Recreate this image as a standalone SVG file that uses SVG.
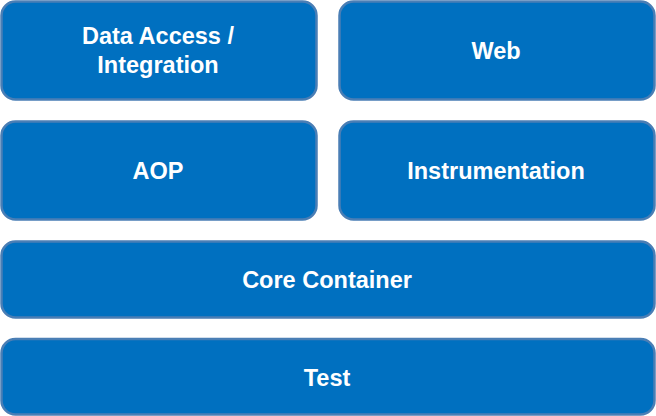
<svg xmlns="http://www.w3.org/2000/svg" width="656" height="416" viewBox="0 0 656 416">
<style>
.box{fill:#0070c0;stroke:#4a7eb5;stroke-width:2.5}
.lbl{fill:#ffffff;font-family:"Liberation Sans",Arial,sans-serif;font-weight:bold;font-size:23.5px;text-anchor:middle}
</style>
<rect width="656" height="416" fill="#ffffff"/>
<g id="data-access">
<rect class="box" x="1.5" y="1.5" width="315" height="98" rx="14"/>
<text class="lbl" x="158" y="44">Data Access /</text>
<text class="lbl" x="158" y="73">Integration</text>
</g>
<g id="web">
<rect class="box" x="339.5" y="1.5" width="315" height="98" rx="14"/>
<text class="lbl" x="496" y="59">Web</text>
</g>
<g id="aop">
<rect class="box" x="1.5" y="121.5" width="315" height="98" rx="14"/>
<text class="lbl" x="158" y="179">AOP</text>
</g>
<g id="instrumentation">
<rect class="box" x="339.5" y="121.5" width="315" height="98" rx="14"/>
<text class="lbl" x="496" y="179">Instrumentation</text>
</g>
<g id="core-container">
<rect class="box" x="1.5" y="241.5" width="653" height="76" rx="14"/>
<text class="lbl" x="327" y="288">Core Container</text>
</g>
<g id="test">
<rect class="box" x="1.5" y="339" width="653" height="75.5" rx="14"/>
<text class="lbl" x="327" y="385.5">Test</text>
</g>
<g id="connectors"></g>
</svg>
